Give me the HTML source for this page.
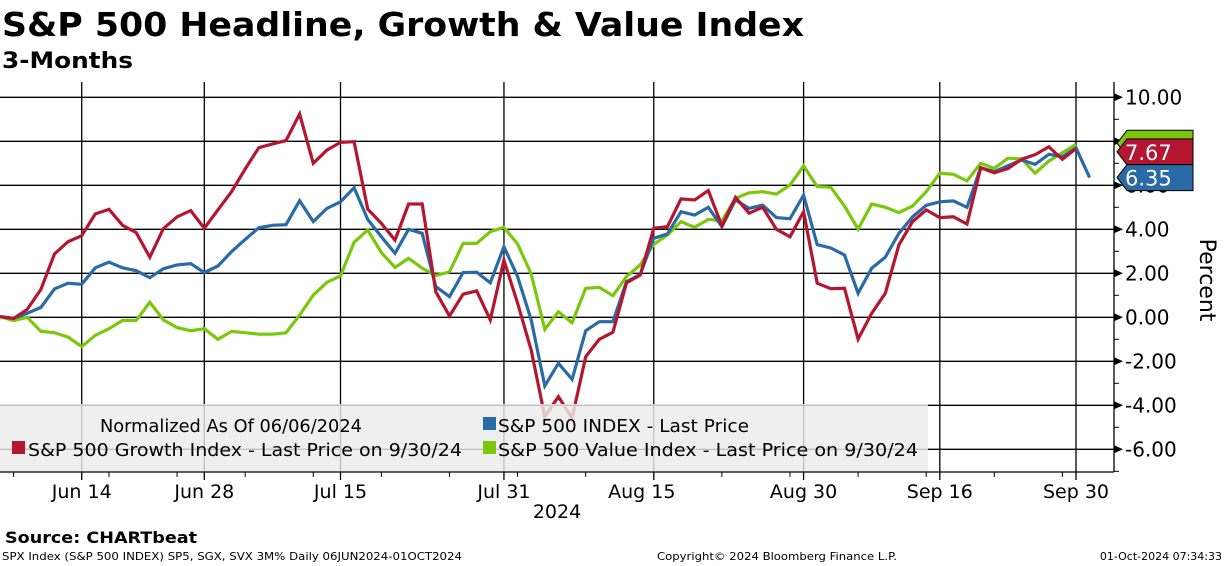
<!DOCTYPE html>
<html><head><meta charset="utf-8">
<style>
html,body{margin:0;padding:0;background:#fff;}
svg{display:block;font-family:"DejaVu Sans","Liberation Sans",sans-serif;}
</style></head>
<body>
<svg id="chart" width="1224" height="566" viewBox="0 0 1224 566" xmlns="http://www.w3.org/2000/svg">
<text x="2" y="36" font-size="33" font-weight="bold" textLength="802" lengthAdjust="spacingAndGlyphs">S&amp;P 500 Headline, Growth &amp; Value Index</text>
<text x="2" y="68" font-size="22" font-weight="bold" textLength="131" lengthAdjust="spacingAndGlyphs">3-Months</text>
<g id="grid"></g>
<g id="series"></g>
<g id="legend">
<rect x="0" y="404" width="928" height="68" fill="#ececec" fill-opacity="0.82"/>
<text x="100" y="432" font-size="18" textLength="262" lengthAdjust="spacingAndGlyphs">Normalized As Of 06/06/2024</text>
<rect x="483" y="417" width="13" height="13" fill="#2a6aa6"/>
<text x="498" y="432" font-size="18" textLength="251" lengthAdjust="spacingAndGlyphs">S&amp;P 500 INDEX  - Last Price</text>
<rect x="12" y="441" width="13" height="13" fill="#b5162f"/>
<text x="28" y="456" font-size="18" textLength="434" lengthAdjust="spacingAndGlyphs">S&amp;P 500 Growth Index  - Last Price on 9/30/24</text>
<rect x="483" y="441" width="13" height="13" fill="#7ac70c"/>
<text x="498" y="456" font-size="18" textLength="420" lengthAdjust="spacingAndGlyphs">S&amp;P 500 Value Index  - Last Price on 9/30/24</text>
</g>
<g id="axes"></g>
<text x="557" y="518" font-size="19" text-anchor="middle">2024</text>
<text transform="translate(1200,280) rotate(90)" font-size="22" text-anchor="middle">Percent</text>
<text x="5" y="543" font-size="16" font-weight="bold" textLength="192" lengthAdjust="spacingAndGlyphs">Source: CHARTbeat</text>
<text x="2" y="560" font-size="11" textLength="460" lengthAdjust="spacingAndGlyphs">SPX Index (S&amp;P 500 INDEX) SP5, SGX, SVX 3M%  Daily 06JUN2024-01OCT2024</text>
<text x="657" y="560" font-size="11" textLength="240" lengthAdjust="spacingAndGlyphs">Copyright© 2024 Bloomberg Finance L.P.</text>
<text x="1222" y="560" font-size="11" text-anchor="end">01-Oct-2024 07:34:33</text>
</svg>
<script>
const growth=[0.03,-0.05,0.36,1.27,2.88,3.44,3.71,4.70,4.91,4.18,3.85,2.73,4.03,4.57,4.85,4.05,4.88,5.71,6.74,7.71,7.88,8.03,9.24,7.0,7.6,7.95,7.98,4.92,4.27,3.51,5.15,5.15,1.16,0.06,1.05,1.2,-0.12,2.6,0.64,-1.49,-4.52,-3.61,-4.58,-1.79,-1.0,-0.68,1.57,1.92,4.05,4.12,5.38,5.33,5.76,4.15,5.45,4.73,5.0,4.0,3.66,4.8,1.55,1.3,1.32,-0.99,0.18,1.09,3.29,4.35,4.88,4.53,4.57,4.24,6.8,6.57,6.76,7.18,7.39,7.75,7.18,7.67];
const spx=[0.03,-0.05,0.18,0.45,1.29,1.55,1.5,2.25,2.51,2.25,2.12,1.8,2.21,2.38,2.44,2.03,2.33,2.98,3.54,4.07,4.18,4.21,5.3,4.35,4.95,5.25,5.89,4.45,3.66,2.91,4.0,3.82,1.39,0.94,2.03,2.05,1.57,3.21,1.85,-0.12,-3.12,-2.09,-2.82,-0.61,-0.2,-0.2,1.62,1.95,3.59,3.79,4.8,4.65,5.0,4.12,5.33,4.95,5.1,4.53,4.48,5.55,3.3,3.15,2.83,1.09,2.23,2.73,3.82,4.57,5.09,5.25,5.29,5.0,6.8,6.62,6.89,7.15,6.95,7.41,7.3,7.7,6.35];
const value=[0.03,-0.15,0,-0.64,-0.7,-0.9,-1.33,-0.82,-0.52,-0.14,-0.14,0.68,-0.12,-0.47,-0.61,-0.52,-1.0,-0.64,-0.7,-0.77,-0.77,-0.71,0.1,1.01,1.59,1.88,3.41,3.97,2.94,2.27,2.68,2.23,1.89,2.07,3.36,3.36,3.89,4.09,3.33,1.97,-0.55,0.25,-0.25,1.32,1.36,0.98,1.85,2.38,3.32,3.74,4.35,4.09,4.45,4.39,5.41,5.66,5.71,5.6,6.01,6.88,5.94,5.91,5.06,4.01,5.15,5.0,4.76,5.06,5.71,6.55,6.5,6.2,7.0,6.77,7.23,7.2,6.55,7.1,7.48,7.86];
const yTicks=[10,8,6,4,2,0,-2,-4,-6];
const yTickLabels=["10.00","8.00","6.00","4.00","2.00","0.00","-2.00","-4.00","-6.00"];
const xTickIdx=[6,15,25,37,48,59,69,79];
const xTickLabels=["Jun 14","Jun 28","Jul 15","Jul 31","Aug 15","Aug 30","Sep 16","Sep 30"];
const xMinorIdx=[1,8,13,18,23,28,33,38,43,53,58,63,68,73,78];
const lastGrowth=7.67, lastSpx=6.35, lastValue=7.86;

const NS="http://www.w3.org/2000/svg";
const X0=0,DX=1076/79,Y0=317.3,DY=22,AX=1114,TOP=82,BOT=472;
function xs(i){return X0+i*DX;}
function ys(v){return Y0-v*DY;}
function mk(tag,attrs,parent){const e=document.createElementNS(NS,tag);for(const k in attrs)e.setAttribute(k,attrs[k]);parent.appendChild(e);return e;}
const grid=document.getElementById('grid'),axes=document.getElementById('axes'),ser=document.getElementById('series');
yTicks.forEach((v,k)=>{
  const l=mk('line',{x1:0,x2:AX,y1:ys(v),y2:ys(v),stroke:'#000','stroke-width':1.3},grid);
  
  
  const p=mk('path',{d:`M${AX} ${ys(v)-4}L${AX+9} ${ys(v)}L${AX} ${ys(v)+4}Z`,fill:'#000'},axes);
  
  
  const t=mk('text',{x:AX+11,y:ys(v)+7,'font-size':20},axes);
  t.textContent=yTickLabels[k];
  
  
});
for(let v=-7;v<=10;v+=2){
  const m=mk('line',{x1:AX,x2:AX+5,y1:ys(v),y2:ys(v),stroke:'#000','stroke-width':1},axes);
  
  
}
xTickIdx.forEach((i,k)=>{
  const l=mk('line',{x1:xs(i),x2:xs(i),y1:TOP,y2:BOT+8,stroke:'#000','stroke-width':1.3},grid);
  
  
  const t=mk('text',{x:xs(i)-(k==4?12:0),y:498,'font-size':19,'text-anchor':'middle'},axes);
  t.textContent=xTickLabels[k];
  
  
});
xMinorIdx.forEach(i=>{
  const m=mk('line',{x1:xs(i),x2:xs(i),y1:BOT,y2:BOT+5,stroke:'#000','stroke-width':1},axes);
  
  
});
const yaxis=mk('line',{x1:AX,x2:AX,y1:TOP,y2:BOT,stroke:'#000','stroke-width':1.3},axes);


const xaxis=mk('line',{x1:0,x2:AX,y1:BOT,y2:BOT,stroke:'#000','stroke-width':1.3},axes);


function line(arr,col,name){
  const d=arr.map((v,i)=>(i?'L':'M')+xs(i).toFixed(1)+' '+ys(v).toFixed(1)).join('');
  const p=mk('path',{d:d,fill:'none',stroke:col,'stroke-width':3.2,'stroke-linejoin':'miter'},ser);
  
  
}
line(value,'#7ac70c','value-index-line');
line(spx,'#2a6aa6','spx-index-line');
line(growth,'#b5162f','growth-index-line');
function tag(v,col,name,label,h){
  const y=ys(v);
  const g=mk('path',{d:`M1117 ${y}L1127 ${y-h/2}L1193 ${y-h/2}L1193 ${y+h/2}L1127 ${y+h/2}Z`,fill:col,stroke:'#000','stroke-width':1},axes);
  
  
  if(label){const t=mk('text',{x:1125,y:y+8,'font-size':21,fill:'#fff'},axes);t.textContent=label;
  
  }
}
tag(lastValue+0.05,'#7ac70c','value-last-tag','',26);
tag(lastGrowth-0.15,'#b5162f','growth-last-tag',lastGrowth.toFixed(2),26);
tag(lastSpx,'#2a6aa6','spx-last-tag',lastSpx.toFixed(2),26);
</script>
</body></html>
